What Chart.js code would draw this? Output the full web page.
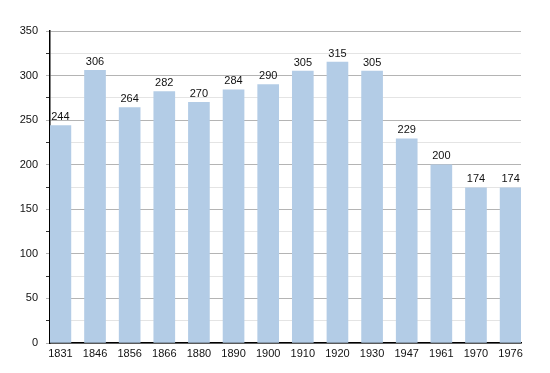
<!DOCTYPE html>
<html>
<head>
<meta charset="utf-8">
<script src="https://cdn.jsdelivr.net/npm/chart.js@4/dist/chart.umd.min.js"></script>
<style>
  html, body { margin: 0; padding: 0; background: #fff; }
  #wrap { width: 550px; height: 373px; }
</style>
</head>
<body>
<div id="wrap"><canvas id="chart"></canvas></div>
<script>
// Population by census year
const years = ['1831', '1846', '1856', '1866', '1880', '1890', '1900', '1910', '1920', '1930', '1947', '1961', '1970', '1976'];
const population = [244, 306, 264, 282, 270, 284, 290, 305, 315, 305, 229, 200, 174, 174];
const yTicks = [0, 50, 100, 150, 200, 250, 300, 350];

// draw the value above each bar
const valueLabels = {
  id: 'valueLabels',
  afterDatasetsDraw(chart) {
    const ctx = chart.ctx;
    const meta = chart.getDatasetMeta(0);
    ctx.save();
    ctx.font = '11px "Liberation Sans", Arial, sans-serif';
    ctx.fillStyle = '#111';
    ctx.textAlign = 'center';
    ctx.textBaseline = 'bottom';
    meta.data.forEach((bar, i) => {
      ctx.fillText(population[i], bar.x, bar.y - 3);
    });
    ctx.restore();
  }
};

const ctx = document.getElementById('chart').getContext('2d');
new Chart(ctx, {
  type: 'bar',
  data: {
    datasets: [{
      data: population.map((v, i) => ({ x: i, y: v })),
      backgroundColor: '#b3cce6',
      borderWidth: 0,
      barThickness: 21
    }]
  },
  options: {
    responsive: true,
    maintainAspectRatio: false,
    animation: false,
    layout: { padding: { top: 31, right: 29, bottom: 0, left: 0 } },
    plugins: {
      legend: { display: false },
      tooltip: { enabled: false }
    },
    scales: {
      x: {
        type: 'linear',
        offset: false,
        min: -0.3,
        max: 13.3,
        afterFit: scale => { scale.height = 30; },
        afterBuildTicks: scale => {
          scale.ticks = years.map((y, i) => ({ value: i }));
        },
        grid: { display: false, drawTicks: false },
        border: { color: '#000', width: 1.5 },
        ticks: {
          padding: 4,
          maxRotation: 0,
          autoSkip: false,
          color: '#111',
          font: { family: '"Liberation Sans", Arial, sans-serif', size: 11 },
          callback: v => years[v]
        }
      },
      y: {
        min: 0,
        max: 350,
        afterFit: scale => { scale.width = 50; },
        afterBuildTicks: scale => {
          const t = [];
          for (let v = 0; v <= 350; v += 25) t.push({ value: v });
          scale.ticks = t;
        },
        grid: {
          color: c => (c.tick.value % 50 === 0 ? '#b4b4b4' : '#e4e4e4'),
          tickColor: c => (c.tick.value % 50 === 0 ? '#b4b4b4' : '#333'),
          tickLength: 4
        },
        border: { color: '#000', width: 1.5 },
        ticks: {
          padding: 8,
          color: '#111',
          font: { family: '"Liberation Sans", Arial, sans-serif', size: 11 },
          callback: v => (yTicks.includes(v) ? v : '')
        }
      }
    }
  },
  plugins: [valueLabels]
});
</script>
</body>
</html>
